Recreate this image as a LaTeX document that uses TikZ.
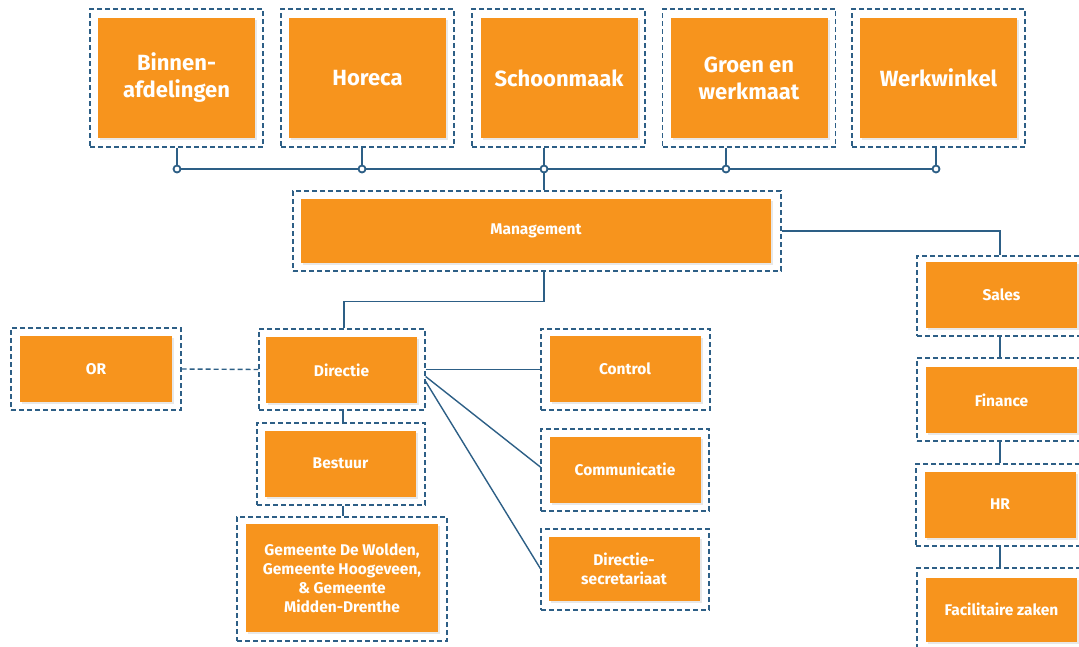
\documentclass[tikz,border=0pt]{standalone}
\usepackage{fontspec}
\setmainfont{Fira Sans}
\usetikzlibrary{shadows}
\definecolor{oranje}{HTML}{F7941D}
\definecolor{lijnblauw}{HTML}{2D5F86}
\tikzset{
  kader/.style={draw=lijnblauw, line width=1.3pt, dash pattern=on 5pt off 3pt, minimum width=169pt, minimum height=81pt},
  topkader/.style={kader, minimum width=173pt, minimum height=138pt},
  blok/.style={fill=oranje, text=white, align=center, font=\bfseries\fontsize{15.5}{19}\selectfont,
    minimum width=151pt, minimum height=66pt, drop shadow={opacity=0.18, shadow xshift=2pt, shadow yshift=-2pt}},
  topblok/.style={blok, font=\bfseries\fontsize{22}{27}\selectfont, minimum width=157pt, minimum height=120pt},
  lijn/.style={draw=lijnblauw, line width=1.4pt},
  knoop/.style={circle, draw=lijnblauw, fill=white, line width=1.8pt, inner sep=0pt, minimum size=7pt}
}

\begin{document}
\begin{tikzpicture}[x=1pt,y=-1pt]
	\useasboundingbox (0,0) rectangle (1079,646);
	\node[topkader] (kBinnen) at (176.5,78) {};
	\node[topkader] (kHoreca) at (367.5,78) {};
	\node[topkader] (kSchoonmaak) at (558.5,78) {};
	\node[topkader] (kGroen) at (749,78) {};
	\node[topkader] (kWerkwinkel) at (938.5,78) {};
	\node[topblok] (Binnen) at (176.5,78) {Binnen-\\afdelingen};
	\node[topblok] (Horeca) at (367.5,78) {Horeca};
	\node[topblok] (Schoonmaak) at (559,78) {Schoonmaak};
	\node[topblok] (Groen) at (749,78) {Groen en\\werkmaat};
	\node[topblok] (Werkwinkel) at (938.5,78) {Werkwinkel};
	\coordinate (b1) at (177,169);
	\coordinate (b2) at (362,169);
	\coordinate (b3) at (544,169);
	\coordinate (b4) at (726,169);
	\coordinate (b5) at (936,169);
	\node[kader, minimum width=488pt, minimum height=80pt] (kManagement) at (537,231) {};
	\node[blok, minimum width=470pt, minimum height=64pt] (Management) at (536,231) {Management};
	\draw[lijn] (b1) -- (b5);
	\draw[lijn] (kBinnen.south -| b1) -- (b1);
	\draw[lijn] (kHoreca.south -| b2) -- (b2);
	\draw[lijn] (kSchoonmaak.south -| b3) -- (b3) -- (kManagement.north -| b3);
	\draw[lijn] (kGroen.south -| b4) -- (b4);
	\draw[lijn] (kWerkwinkel.south -| b5) -- (b5);
	\foreach \b in {b1,b2,b3,b4,b5}
		\node[knoop] at (\b) {};
	\node[kader, minimum height=80pt] (kSales) at (1001.5,296) {};
	\node[kader, minimum height=83pt] (kFinance) at (1001.5,399.5) {};
	\node[kader, minimum height=82pt] (kHR) at (1000.5,505) {};
	\node[kader, minimum height=82pt] (kFacilitair) at (1001.5,609) {};
	\node[blok] (Sales) at (1001.5,295) {Sales};
	\node[blok] (Finance) at (1001.5,400) {Finance};
	\node[blok] (HR) at (1000,504.5) {HR};
	\node[blok, minimum height=64pt] (Facilitair) at (1001.5,609.5) {Facilitaire zaken};
	\draw[lijn] (kManagement.east) -| (kSales.north -| 1000,0);
	\draw[lijn] (kSales.south -| 1000,0) -- (kFinance.north -| 1000,0);
	\draw[lijn] (kFinance.south -| 1000,0) -- (kHR.north -| 1000,0);
	\draw[lijn] (kHR.south -| 1000,0) -- (kFacilitair.north -| 1000,0);
	\node[kader, minimum width=166pt] (kDirectie) at (342,369.5) {};
	\node[blok] (Directie) at (341.5,370) {Directie};
	\node[kader, minimum width=170pt, minimum height=82pt] (kOR) at (96,369) {};
	\node[blok, minimum width=152pt] (OR) at (96,369) {OR};
	\node[kader] (kControl) at (625.5,369.5) {};
	\node[blok] (Control) at (625,369) {Control};
	\node[kader, minimum width=168pt, minimum height=82pt] (kCommunicatie) at (625,470) {};
	\node[blok] (Communicatie) at (625,469.5) {Communicatie};
	\node[kader, minimum width=168pt] (kSecretariaat) at (625,569.5) {};
	\node[blok, minimum height=64pt] (Secretariaat) at (624,569) {Directie-\\secretariaat};
	\node[kader, minimum width=168pt, minimum height=82pt] (kBestuur) at (341,464) {};
	\node[blok] (Bestuur) at (340.5,463.5) {Bestuur};
	\node[kader, minimum width=210pt, minimum height=124pt] (kGemeente) at (342,579) {};
	\node[blok, minimum width=192pt, minimum height=108pt] (Gemeente) at (342,578) {Gemeente De Wolden,\\Gemeente Hoogeveen,\\\& Gemeente\\Midden-Drenthe};
	\draw[lijn] (kManagement.south -| b3) -- ++(0,30) -| (kDirectie.north -| 344,0);
	\draw[lijn, dash pattern=on 5pt off 3pt] (kOR.east) -- (kDirectie.west);
	\draw[lijn] (kDirectie.east) -- (kControl.west);
	\draw[lijn] ([yshift=-7pt]kDirectie.east) -- ([yshift=3pt]kCommunicatie.west);
	\draw[lijn] ([yshift=-12pt]kDirectie.east) -- ([yshift=1pt]kSecretariaat.west);
	\draw[lijn] (kDirectie.south -| 343,0) -- (kBestuur.north -| 343,0);
	\draw[lijn] (kBestuur.south -| 343,0) -- (kGemeente.north -| 343,0);
\end{tikzpicture}
\end{document}
